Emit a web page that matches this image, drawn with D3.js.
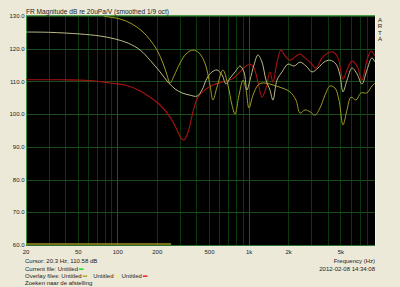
<!DOCTYPE html>
<html>
<head>
<meta charset="utf-8">
<script src="https://cdn.jsdelivr.net/npm/d3@7"></script>
<style>
  html, body { margin: 0; padding: 0; background: #ece9d8; }
  svg { display: block; }
  text { font-family: "Liberation Sans", Arial, sans-serif; fill: #222; }
</style>
</head>
<body>
<div id="chart"></div>
<script>
// frequency / dB points
const redFreq = [20, 36, 61, 87, 114, 148, 176, 210, 250, 278, 303, 319, 343, 374, 408, 461, 531, 622, 741, 853, 948, 1016, 1089, 1169, 1254, 1346, 1442, 1520, 1632, 1750, 1879, 2050, 2238, 2444, 2668, 2912, 3236, 3592, 3990, 4356, 4754, 5190, 5572, 6080, 6640, 7240, 7900, 8490, 9100]
const redDb = [110.5, 110.5, 110.3, 109.5, 108.9, 107.1, 105.2, 102.8, 99.1, 95.8, 92.7, 92.1, 94.5, 100.7, 105.2, 107.4, 108.9, 109.8, 110.7, 112.9, 114.7, 115.3, 114.1, 109.8, 105.2, 108.0, 112.9, 109.8, 115.9, 119.6, 117.8, 116.5, 117.5, 118.4, 117.2, 115.9, 114.1, 117.2, 118.7, 119.0, 117.2, 110.7, 113.5, 116.2, 114.7, 110.4, 116.5, 119.3, 117.8]

const oliveFreq = [67, 78.5, 104, 128, 153, 176, 199, 221, 237, 250, 268, 298, 331, 374, 416, 461, 504, 531, 570, 632, 690, 741, 782, 838, 899, 948, 998, 1071, 1169, 1254, 1442, 1603, 1782, 2050, 2276, 2444, 2668, 2912, 3176, 3468, 3784, 4130, 4508, 4840, 5190, 5572, 5970, 6520, 7110, 7900, 8630, 9100]
const oliveDb = [131.2, 130, 129.1, 127.6, 125.4, 122.7, 119.6, 115.6, 112.0, 109.5, 111.7, 115.6, 118.4, 119.6, 118.7, 115.6, 108.9, 104.3, 108.3, 113.5, 108.9, 102.8, 100.0, 105.8, 110.4, 107.4, 101.9, 105.8, 108.9, 109.5, 109.2, 108.6, 108.0, 106.8, 104.3, 100.3, 101.3, 100.7, 99.7, 101.9, 105.8, 108.6, 108.0, 104.3, 96.7, 101.3, 105.2, 104.3, 106.5, 106.5, 108.6, 109.5]

const khakiFreq = [20, 30.5, 51.6, 73, 95, 120, 148, 176, 210, 241, 273, 308, 355, 401, 438, 478, 522, 570, 622, 667, 716, 782, 853, 914, 964, 1016, 1089, 1169, 1254, 1346, 1442, 1520, 1632, 1782, 1978, 2198, 2444, 2716, 3014, 3350, 3724, 4130, 4592, 4920, 5190, 5572, 6080, 6640, 7240, 7900, 8630, 9100]
const khakiDb = [125.1, 125.0, 124.5, 123.9, 123.0, 121.7, 119.6, 116.5, 112.9, 109.8, 107.7, 106.5, 105.8, 105.5, 107.4, 111.0, 112.9, 113.5, 112.0, 109.2, 111.0, 112.9, 114.7, 112.9, 107.4, 110.4, 115.0, 118.1, 115.9, 110.4, 107.4, 104.3, 110.4, 112.9, 115.3, 114.7, 115.9, 114.7, 112.9, 114.1, 115.9, 116.5, 115.3, 112.0, 106.8, 110.4, 114.1, 112.3, 109.2, 113.5, 117.2, 115.9]

// flat trace sitting on the floor
const floorFreq = [20, 255]
const floorDb = [60.3, 60.3]

const yTicks = [130, 120, 110, 100, 90, 80, 70, 60]
const xTickVals = [20, 50, 100, 200, 500, 1000, 2000, 5000]
const xTickText = ['20', '50', '100', '200', '500', '1k', '2k', '5k']
const gridFreqs = [30, 40, 50, 60, 70, 80, 90, 100, 200, 300, 400, 500, 600, 700, 800, 900, 1000, 2000, 3000, 4000, 5000, 6000, 7000, 8000]

const W = 400, H = 287
const margin = { left: 26, top: 16, right: 25, bottom: 42 }

const svg = d3.select('#chart').append('svg')
    .attr('width', W)
    .attr('height', H)

const x = d3.scaleLog()
    .domain([20, 9100])
    .range([margin.left, W - margin.right])

const y = d3.scaleLinear()
    .domain([60, 130])
    .range([H - margin.bottom, margin.top])

const pw = W - margin.left - margin.right
const ph = H - margin.top - margin.bottom

svg.append('rect')
    .attr('x', margin.left).attr('y', margin.top)
    .attr('width', pw).attr('height', ph)
    .attr('fill', '#000')

svg.append('clipPath').attr('id', 'plotclip')
    .append('rect')
    .attr('x', margin.left).attr('y', margin.top)
    .attr('width', pw).attr('height', ph)

// vertical grid
svg.append('g').selectAll('line')
    .data(gridFreqs)
    .enter().append('line')
    .attr('x1', d => x(d)).attr('x2', d => x(d))
    .attr('y1', margin.top).attr('y2', H - margin.bottom)
    .attr('stroke', d => (d === 100 || d === 1000) ? '#1c571c' : '#0c360c')
    .attr('stroke-width', 1)
    .attr('shape-rendering', 'crispEdges')

// horizontal grid
svg.append('g').selectAll('line')
    .data(yTicks)
    .enter().append('line')
    .attr('x1', margin.left).attr('x2', W - margin.right)
    .attr('y1', d => Math.round(y(d)) + 0.5).attr('y2', d => Math.round(y(d)) + 0.5)
    .attr('stroke', '#1a4d1a')
    .attr('stroke-width', 1)

// frame
svg.append('line')
    .attr('x1', margin.left).attr('x2', W - margin.right)
    .attr('y1', margin.top - 0.5).attr('y2', margin.top - 0.5)
    .attr('stroke', '#4c9a4c')
svg.append('line')
    .attr('x1', margin.left + 0.5).attr('x2', margin.left + 0.5)
    .attr('y1', margin.top).attr('y2', H - margin.bottom)
    .attr('stroke', '#3f8a3f')
svg.append('line')
    .attr('x1', margin.left).attr('x2', W - margin.right)
    .attr('y1', H - margin.bottom + 0.5).attr('y2', H - margin.bottom + 0.5)
    .attr('stroke', '#2f6f2f')
svg.append('line')
    .attr('x1', W - margin.right + 0.5).attr('x2', W - margin.right + 0.5)
    .attr('y1', margin.top).attr('y2', H - margin.bottom)
    .attr('stroke', '#f4f4ee')

const line = d3.line()
    .x(d => x(d[0]))
    .y(d => y(d[1]))
    .curve(d3.curveCatmullRom.alpha(0.5))

const plot = svg.append('g').attr('clip-path', 'url(#plotclip)')

function drawCurve(freqs, dbs, color, widthPx) {
    const pts = freqs.map((f, i) => [f, dbs[i]])
    plot.append('path')
        .datum(pts)
        .attr('d', line)
        .attr('fill', 'none')
        .attr('stroke', color)
        .attr('stroke-width', widthPx)
}

drawCurve(floorFreq, floorDb, '#9c9620', 1.3)
drawCurve(redFreq, redDb, '#a81212', 1.1)
drawCurve(khakiFreq, khakiDb, '#bcba86', 1.0)
drawCurve(oliveFreq, oliveDb, '#9e9a24', 1.0)

// y labels
svg.append('g').selectAll('text')
    .data(yTicks)
    .enter().append('text')
    .attr('x', margin.left - 1.5)
    .attr('y', d => y(d) + 2.2)
    .attr('text-anchor', 'end')
    .style('font-size', '6px')
    .text(d => d.toFixed(1))

// x labels
svg.append('g').selectAll('text')
    .data(xTickVals)
    .enter().append('text')
    .attr('x', d => x(d))
    .attr('y', H - margin.bottom + 9)
    .attr('text-anchor', 'middle')
    .style('font-size', '6px')
    .text((d, i) => xTickText[i])

svg.append('text')
    .attr('x', margin.left).attr('y', 13.5)
    .style('font-size', '6.6px')
    .text('FR Magnitude dB re 20uPa/V (smoothed 1/9 oct)')

// ARTA stacked letters
const arta = ['A', 'R', 'T', 'A']
svg.append('g').selectAll('text')
    .data(arta)
    .enter().append('text')
    .attr('x', 380).attr('y', (d, i) => 22 + i * 6.4)
    .attr('text-anchor', 'middle')
    .style('font-size', '6.2px')
    .text(d => d)

svg.append('text')
    .attr('x', W - margin.right).attr('y', 263)
    .attr('text-anchor', 'end')
    .style('font-size', '6px')
    .text('Frequency (Hz)')
svg.append('text')
    .attr('x', W - margin.right).attr('y', 271)
    .attr('text-anchor', 'end')
    .style('font-size', '6px')
    .text('2012-02-08  14:34:08')

svg.append('text')
    .attr('x', margin.left - 1).attr('y', 263)
    .style('font-size', '6px')
    .text('Cursor: 20.3 Hz, 110.58 dB')

// legend rows with swatches after each name
function legendRow(yPos, parts) {
    let cx = margin.left - 1
    parts.forEach(p => {
        const t = svg.append('text')
            .attr('x', cx).attr('y', yPos)
            .style('font-size', '6px')
            .text(p.label)
        cx += t.node().getComputedTextLength() + 1
        if (p.color) {
            svg.append('rect')
                .attr('x', cx).attr('y', yPos - 2.6)
                .attr('width', 4.5).attr('height', 1.6)
                .attr('fill', p.color)
            cx += 4.5 + p.gap
        }
    })
}

legendRow(271, [{ label: 'Current file: Untitled', color: '#22dd22', gap: 0 }])
legendRow(278, [
    { label: 'Overlay files: Untitled', color: '#b4ae1e', gap: 6 },
    { label: 'Untitled', color: '#f4f08a', gap: 2.5 },
    { label: 'Untitled', color: '#ee2a2a', gap: 0 }
])
legendRow(285, [{ label: 'Zoeken naar de afstelling' }])
</script>
</body>
</html>
